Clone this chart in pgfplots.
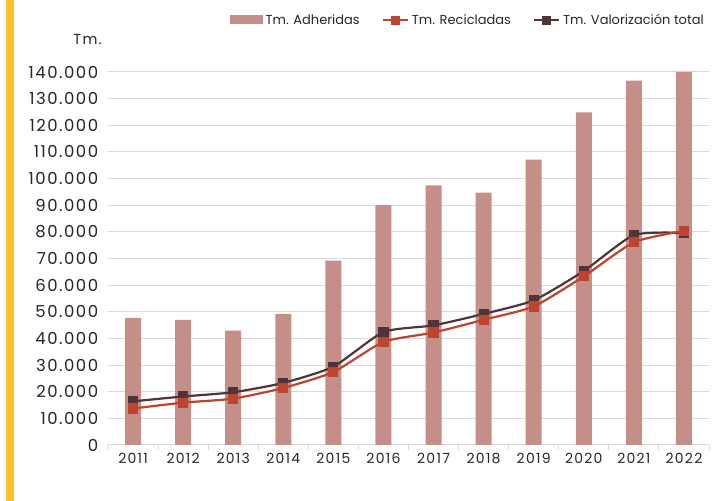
\documentclass[border=0pt]{standalone}
\usepackage{pgfplots}
\pgfplotsset{compat=1.18}
\usepackage{fontspec}
\setmainfont{Poppins}
\newfontfamily\spfont{Poppins}[LetterSpace=9]
\definecolor{barc}{HTML}{C48F89}
\definecolor{redc}{HTML}{BC4530}
\definecolor{darkc}{HTML}{4F3538}
\definecolor{yelc}{HTML}{FFC12B}
\definecolor{gridc}{HTML}{D9D9D9}
\definecolor{txtc}{HTML}{262626}
\begin{document}
\begin{tikzpicture}[x=1pt,y=1pt]
\useasboundingbox (0,0) rectangle (724,501);
\fill[yelc] (6,0) rectangle (14,501);
\node[anchor=base east, font=\spfont\fontsize{14.5}{16}\selectfont, text=txtc, inner sep=0pt] at (102,456) {Tm.};
\begin{axis}[
  at={(108pt,56pt)}, anchor=south west,
  scale only axis, width=601pt, height=373pt,
  xmin=-0.5, xmax=11.5, ymin=0, ymax=140000,
  axis x line*=bottom, axis y line*=left,
  x axis line style={gridc, line width=1pt},
  y axis line style={draw=none},
  xtick={0,...,11},
  xticklabels={2011,2012,2013,2014,2015,2016,2017,2018,2019,2020,2021,2022},
  major x tick style={draw=none},
  major y tick style={draw=none},
  minor xtick={-0.5,0.5,...,11.5},
  minor x tick style={gridc, line width=1pt},
  minor tick length=5pt,
  tick align=outside,
  ytick={0,10000,20000,30000,40000,50000,60000,70000,80000,90000,100000,110000,120000,130000,140000},
  yticklabels={0,10.000,20.000,30.000,40.000,50.000,60.000,70.000,80.000,90.000,100.000,110.000,120.000,130.000,140.000},
  ymajorgrids, grid style={gridc, line width=1pt},
  yticklabel style={font=\spfont\fontsize{16.5}{18}\selectfont, text=txtc, xshift=-2pt},
  xticklabel style={font=\spfont\fontsize{14}{16}\selectfont, text=txtc},
  scaled y ticks=false,
  clip=false,
  legend columns=3,
  legend style={at={(1.0,1.166)}, anchor=north east, draw=none, fill=none,
    font=\fontsize{13}{15}\selectfont, text=txtc,
    /tikz/every odd column/.append style={column sep=1pt},
    /tikz/every even column/.append style={column sep=20pt}},
  legend cell align=left,
]
\addplot[ybar, bar width=16pt, fill=barc, draw=none, bar shift=0pt,
  area legend, legend image code/.code={\fill[barc] (0pt,-4pt) rectangle (33pt,5pt);}]
  coordinates {(0,47700) (1,47000) (2,42900) (3,49200) (4,69200) (5,90000)
   (6,97400) (7,94700) (8,107100) (9,124800) (10,136800) (11,140000)};
\addlegendentry{Tm. Adheridas}
\addlegendimage{legend image code/.code={\draw[redc, line width=2.2pt] (0pt,0pt) -- (25pt,0pt); \fill[redc] (8.5pt,-4pt) rectangle (16.5pt,4pt);}}
\addlegendentry{Tm. Recicladas}
\addlegendimage{legend image code/.code={\draw[darkc, line width=2.2pt] (0pt,0pt) -- (25pt,0pt); \fill[darkc] (8.5pt,-4pt) rectangle (16.5pt,4pt);}}
\addlegendentry{Tm. Valorización total}
\addplot[darkc, line width=2.2pt, smooth, tension=0.35, mark=square*, mark size=4pt,
  mark options={solid, fill=darkc, draw=darkc}, forget plot]
  coordinates {(0,16400) (1,18200) (2,19800) (3,23300) (4,29400) (5,42400)
   (6,44900) (7,49200) (8,54300) (9,65300) (10,78800) (11,79600)};
\addplot[redc, line width=2.2pt, smooth, tension=0.35, mark=square*, mark size=4pt,
  mark options={solid, fill=redc, draw=redc}, forget plot]
  coordinates {(0,13700) (1,15900) (2,17400) (3,21400) (4,27400) (5,38700)
   (6,42200) (7,47000) (8,52000) (9,63300) (10,76100) (11,80400)};
\end{axis}
\end{tikzpicture}
\end{document}
